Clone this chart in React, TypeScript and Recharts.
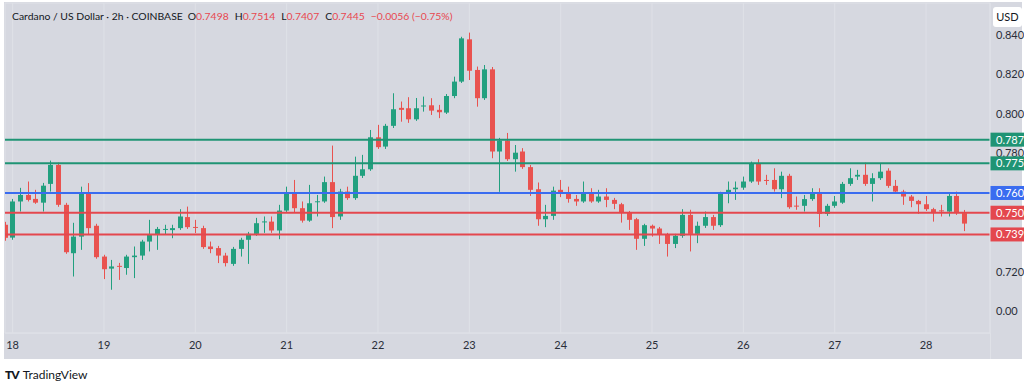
import React from "react";
import { ComposedChart, Bar, XAxis, YAxis, CartesianGrid, ReferenceLine } from "recharts";

// ADA/USD 2h candles, 17 22:00 -> 28 10:00
const openPrices = [
  0.7439, 0.7374, 0.7557, 0.7590, 0.7570, 0.7551, 0.7646, 0.7742, 0.7540, 0.7295,
  0.7379, 0.7602, 0.7434, 0.7278, 0.7217, 0.7231, 0.7220, 0.7275, 0.7283, 0.7354,
  0.7388, 0.7416, 0.7412, 0.7422, 0.7478, 0.7428, 0.7422, 0.7329, 0.7321, 0.7283,
  0.7241, 0.7317, 0.7363, 0.7393, 0.7454, 0.7455, 0.7410, 0.7511, 0.7599, 0.7523,
  0.7460, 0.7555, 0.7557, 0.7655, 0.7481, 0.7607, 0.7574, 0.7687, 0.7720, 0.7882,
  0.7835, 0.7940, 0.8031, 0.8029, 0.7973, 0.8038, 0.8044, 0.8021, 0.8007, 0.8091,
  0.8164, 0.8378, 0.8223, 0.8080, 0.8226, 0.7810, 0.7865, 0.7771, 0.7810, 0.7731,
  0.7619, 0.7467, 0.7484, 0.7616, 0.7595, 0.7570, 0.7557, 0.7604, 0.7557, 0.7582,
  0.7565, 0.7543, 0.7503, 0.7467, 0.7368, 0.7434, 0.7420, 0.7388, 0.7342, 0.7383,
  0.7489, 0.7393, 0.7434, 0.7478, 0.7437, 0.7595, 0.7619, 0.7627, 0.7658, 0.7751,
  0.7666, 0.7666, 0.7619, 0.7687, 0.7536, 0.7535, 0.7569, 0.7599, 0.7494, 0.7535,
  0.7551, 0.7646, 0.7683, 0.7692, 0.7646, 0.7675, 0.7713, 0.7636, 0.7607, 0.7582,
  0.7560, 0.7543, 0.7518, 0.7512, 0.7506, 0.7585, 0.7498,
];
const highPrices = [
  0.7454, 0.7570, 0.7626, 0.7658, 0.7616, 0.7651, 0.7764, 0.7754, 0.7550, 0.7449,
  0.7632, 0.7650, 0.7444, 0.7287, 0.7261, 0.7246, 0.7287, 0.7329, 0.7363, 0.7464,
  0.7428, 0.7439, 0.7439, 0.7518, 0.7531, 0.7464, 0.7434, 0.7354, 0.7332, 0.7297,
  0.7327, 0.7373, 0.7403, 0.7474, 0.7481, 0.7481, 0.7540, 0.7632, 0.7666, 0.7557,
  0.7641, 0.7590, 0.7683, 0.7840, 0.7621, 0.7632, 0.7784, 0.7793, 0.7919, 0.7945,
  0.7950, 0.8105, 0.8063, 0.8085, 0.8081, 0.8088, 0.8080, 0.8046, 0.8101, 0.8189,
  0.8391, 0.8412, 0.8240, 0.8248, 0.8238, 0.7879, 0.7904, 0.7843, 0.7827, 0.7742,
  0.7653, 0.7540, 0.7632, 0.7666, 0.7632, 0.7590, 0.7658, 0.7624, 0.7616, 0.7624,
  0.7575, 0.7550, 0.7509, 0.7474, 0.7444, 0.7440, 0.7428, 0.7398, 0.7393, 0.7518,
  0.7515, 0.7455, 0.7506, 0.7489, 0.7606, 0.7658, 0.7658, 0.7683, 0.7759, 0.7771,
  0.7692, 0.7725, 0.7708, 0.7697, 0.7582, 0.7590, 0.7624, 0.7624, 0.7545, 0.7585,
  0.7656, 0.7725, 0.7717, 0.7754, 0.7700, 0.7751, 0.7725, 0.7666, 0.7616, 0.7590,
  0.7565, 0.7585, 0.7525, 0.7540, 0.7595, 0.7607, 0.7514,
];
const lowPrices = [
  0.7358, 0.7363, 0.7506, 0.7557, 0.7545, 0.7506, 0.7607, 0.7530, 0.7292, 0.7177,
  0.7312, 0.7388, 0.7267, 0.7164, 0.7110, 0.7160, 0.7186, 0.7169, 0.7261, 0.7304,
  0.7312, 0.7388, 0.7371, 0.7413, 0.7418, 0.7397, 0.7317, 0.7295, 0.7245, 0.7228,
  0.7231, 0.7278, 0.7241, 0.7383, 0.7398, 0.7398, 0.7366, 0.7504, 0.7501, 0.7450,
  0.7454, 0.7481, 0.7550, 0.7422, 0.7464, 0.7565, 0.7565, 0.7676, 0.7712, 0.7823,
  0.7823, 0.7929, 0.7961, 0.7955, 0.7965, 0.8012, 0.7995, 0.7979, 0.8000, 0.8080,
  0.8157, 0.8172, 0.8037, 0.8071, 0.7776, 0.7606, 0.7762, 0.7708, 0.7722, 0.7585,
  0.7434, 0.7427, 0.7464, 0.7579, 0.7551, 0.7535, 0.7550, 0.7550, 0.7550, 0.7528,
  0.7518, 0.7450, 0.7413, 0.7312, 0.7332, 0.7379, 0.7342, 0.7278, 0.7321, 0.7373,
  0.7304, 0.7346, 0.7423, 0.7413, 0.7428, 0.7548, 0.7565, 0.7616, 0.7651, 0.7641,
  0.7641, 0.7607, 0.7574, 0.7520, 0.7515, 0.7506, 0.7560, 0.7427, 0.7484, 0.7525,
  0.7545, 0.7636, 0.7666, 0.7636, 0.7557, 0.7666, 0.7626, 0.7601, 0.7540, 0.7528,
  0.7494, 0.7509, 0.7455, 0.7481, 0.7481, 0.7489, 0.7407,
];
const closePrices = [
  0.7373, 0.7557, 0.7590, 0.7565, 0.7551, 0.7637, 0.7742, 0.7540, 0.7300, 0.7379,
  0.7602, 0.7422, 0.7275, 0.7214, 0.7228, 0.7226, 0.7278, 0.7283, 0.7354, 0.7388,
  0.7418, 0.7418, 0.7422, 0.7481, 0.7427, 0.7426, 0.7326, 0.7316, 0.7283, 0.7245,
  0.7317, 0.7363, 0.7393, 0.7447, 0.7456, 0.7410, 0.7511, 0.7602, 0.7523, 0.7460,
  0.7548, 0.7558, 0.7655, 0.7478, 0.7607, 0.7574, 0.7687, 0.7720, 0.7882, 0.7832,
  0.7940, 0.8024, 0.8021, 0.7973, 0.8029, 0.8043, 0.8017, 0.8009, 0.8091, 0.8164,
  0.8383, 0.8219, 0.8080, 0.8226, 0.7810, 0.7865, 0.7771, 0.7804, 0.7731, 0.7616,
  0.7467, 0.7484, 0.7612, 0.7599, 0.7570, 0.7557, 0.7604, 0.7557, 0.7582, 0.7565,
  0.7545, 0.7503, 0.7464, 0.7368, 0.7437, 0.7420, 0.7388, 0.7342, 0.7383, 0.7489,
  0.7393, 0.7434, 0.7478, 0.7434, 0.7595, 0.7616, 0.7627, 0.7658, 0.7751, 0.7658,
  0.7664, 0.7619, 0.7687, 0.7528, 0.7531, 0.7569, 0.7595, 0.7494, 0.7535, 0.7557,
  0.7646, 0.7675, 0.7692, 0.7646, 0.7675, 0.7708, 0.7636, 0.7607, 0.7582, 0.7560,
  0.7543, 0.7518, 0.7498, 0.7509, 0.7585, 0.7498, 0.7445,
];

const dayTicks = [1, 13, 25, 37, 49, 61, 73, 85, 97, 109, 121];
const dayLabels = ["18", "19", "20", "21", "22", "23", "24", "25", "26", "27", "28"];

const priceTicks = [0.7, 0.72, 0.74, 0.76, 0.78, 0.8, 0.82, 0.84];
const priceTickLabels = ["0.00", "0.720", "0.740", "0.760", "0.780", "0.800", "0.820", "0.840"];

const levelPrices = [0.787, 0.775, 0.76, 0.75, 0.739];
const levelLabels = ["0.787", "0.775", "0.760", "0.750", "0.739"];
const levelColors = ["#1f9474", "#1f9474", "#3a6cf0", "#e4474e", "#e4474e"];

const UP = "#22a07f";
const DOWN = "#e9524f";
const GRID = "#dfe1e7";
const FONT = "Lato, 'Noto Sans', sans-serif";

const candles = openPrices.map((o, i) => ({
  i,
  open: o,
  high: highPrices[i],
  low: lowPrices[i],
  close: closePrices[i],
  range: [lowPrices[i], highPrices[i]],
}));

const Candle = (props: any) => {
  const { x, y, width, height, payload } = props;
  if (!payload || y == null || height == null) return null;
  const { open, close, high, low } = payload;
  const yTop = Math.min(y, y + height);
  const yBot = Math.max(y, y + height);
  const span = high - low || 1;
  const toY = (p: number) => yTop + ((high - p) / span) * (yBot - yTop);
  const cx = Math.round(x + width / 2) + 0.5;
  const color = close >= open ? UP : DOWN;
  const top = toY(Math.max(open, close));
  const bottom = toY(Math.min(open, close));
  return (
    <g>
      <line x1={cx} x2={cx} y1={yTop} y2={yBot} stroke={color} strokeWidth={1} />
      <rect x={cx - 2.5} y={top} width={5} height={Math.max(1, bottom - top)} fill={color} />
    </g>
  );
};

// coloured price tag on the right scale
const LevelTag = (props: any) => {
  const { viewBox, text, color } = props;
  if (!viewBox) return null;
  const x = viewBox.x + viewBox.width;
  const y = viewBox.y;
  return (
    <g>
      <rect x={x} y={y - 7} width={34} height={14} fill={color} />
      <text x={x + 6} y={y + 4} fill="#ffffff" fontSize={11} fontFamily={FONT}>
        {text}
      </text>
    </g>
  );
};

// plain scale label, drawn before the tags so the tags cover it
const ScaleText = (props: any) => {
  const { viewBox, text } = props;
  if (!viewBox) return null;
  return (
    <text x={viewBox.x + viewBox.width + 6} y={viewBox.y + 4} fill="#2a2e39" fontSize={11} fontFamily={FONT}>
      {text}
    </text>
  );
};

export default function App() {
  return (
    <div style={{ position: "fixed", left: 0, top: 0, width: 1024, height: 384, background: "#ffffff", overflow: "hidden" }}>
      <div style={{ position: "absolute", left: 4, top: 2, width: 1018, height: 357, background: "#d6d8e0" }} />
      <div style={{ position: "absolute", left: 990, top: 333, width: 1, height: 26, background: GRID }} />
      <div style={{ position: "absolute", left: 0, top: 0 }}>
        <ComposedChart
          width={1024}
          height={384}
          data={candles}
          margin={{ top: 3, right: 0, bottom: 25, left: 5 }}
          style={{ fontFamily: FONT }}
        >
          <CartesianGrid stroke={GRID} strokeWidth={1} />
          <XAxis
            type="number"
            dataKey="i"
            domain={[0, 129.4]}
            allowDataOverflow
            ticks={dayTicks}
            tickFormatter={(v: number) => dayLabels[dayTicks.indexOf(v)]}
            tick={{ fill: "#2a2e39", fontSize: 11 }}
            tickLine={false}
            axisLine={{ stroke: GRID }}
            height={26}
            interval={0}
          />
          <YAxis
            orientation="right"
            type="number"
            domain={[0.6891, 0.8562]}
            allowDataOverflow
            ticks={priceTicks}
            tick={false}
            tickLine={false}
            axisLine={{ stroke: GRID }}
            width={34}
            interval={0}
          />
          <Bar dataKey="range" barSize={5} shape={<Candle />} isAnimationActive={false} />
          {priceTicks.map((p, k) => (
            <ReferenceLine
              key={"t" + k}
              y={p}
              stroke="none"
              label={{ content: (lp: any) => <ScaleText {...lp} text={priceTickLabels[k]} /> }}
            />
          ))}
          {levelPrices.map((p, k) => (
            <ReferenceLine
              key={levelLabels[k]}
              y={p}
              stroke={levelColors[k]}
              strokeWidth={2}
              label={{ content: (lp: any) => <LevelTag {...lp} text={levelLabels[k]} color={levelColors[k]} /> }}
            />
          ))}
        </ComposedChart>
      </div>
      <div
        style={{
          position: "absolute",
          left: 12,
          top: 10,
          fontFamily: FONT,
          fontSize: 10.4,
          color: "#131722",
          whiteSpace: "nowrap",
        }}
      >
        <span>Cardano / US Dollar · 2h · COINBASE</span>
        <span style={{ marginLeft: 5 }}>O<span style={{ color: "#e8474f" }}>0.7498</span></span>
        <span style={{ marginLeft: 6 }}>H<span style={{ color: "#e8474f" }}>0.7514</span></span>
        <span style={{ marginLeft: 6 }}>L<span style={{ color: "#e8474f" }}>0.7407</span></span>
        <span style={{ marginLeft: 6 }}>C<span style={{ color: "#e8474f" }}>0.7445</span></span>
        <span style={{ marginLeft: 6, color: "#e8474f" }}>−0.0056 (−0.75%)</span>
      </div>
      <div
        style={{
          position: "absolute",
          left: 993,
          top: 7,
          width: 29,
          height: 20,
          background: "#ffffff",
          borderRadius: 3,
          fontFamily: FONT,
          fontSize: 11,
          color: "#131722",
          textAlign: "center",
          lineHeight: "20px",
        }}
      >
        USD
      </div>
      <div
        style={{
          position: "absolute",
          left: 5,
          top: 367,
          fontFamily: FONT,
          fontSize: 12,
          color: "#131722",
          whiteSpace: "nowrap",
        }}
      >
        <span style={{ fontWeight: 900, letterSpacing: -1, marginRight: 4 }}>TV</span>
        <span>TradingView</span>
      </div>
    </div>
  );
}
